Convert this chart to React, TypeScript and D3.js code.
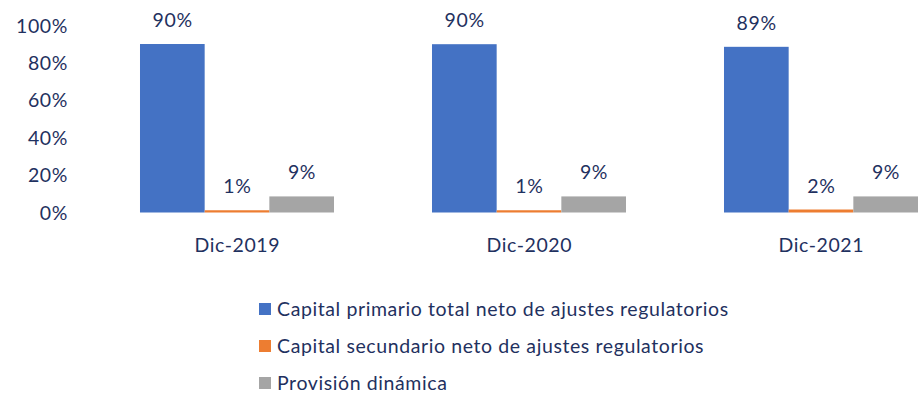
import React from "react";
import * as d3 from "d3";

const categories = ["Dic-2019", "Dic-2020", "Dic-2021"];
const seriesNames = [
  "Capital primario total neto de ajustes regulatorios",
  "Capital secundario neto de ajustes regulatorios",
  "Provisión dinámica",
];
const primario = [0.901, 0.9, 0.886];
const secundario = [0.012, 0.012, 0.016];
const provision = [0.086, 0.086, 0.086];
const labelsPrimario = ["90%", "90%", "89%"];
const labelsSecundario = ["1%", "1%", "2%"];
const labelsProvision = ["9%", "9%", "9%"];
const yTicks = [0, 0.2, 0.4, 0.6, 0.8, 1.0];
const colors = ["#4472C4", "#ED7D31", "#A5A5A5"];

const TEXT = "#1F3160";
const FONT = "Lato, 'Open Sans', sans-serif";

export default function App() {
  const W = 922;
  const H = 404;
  const x0 = d3
    .scaleBand<string>()
    .domain(categories)
    .range([91, 967])
    .paddingInner(0.3356)
    .paddingOuter(0.1678);
  const x1 = d3
    .scaleBand<number>()
    .domain([0, 1, 2])
    .range([0, x0.bandwidth()]);
  const y = d3.scaleLinear().domain([0, 1]).range([212.5, 25.5]);

  const series = [primario, secundario, provision];
  const labels = [labelsPrimario, labelsSecundario, labelsProvision];
  const ls = 0.6;

  return (
    <svg
      width={W}
      height={H}
      style={{ position: "absolute", left: 0, top: 0, background: "#fff" }}
      fontFamily={FONT}
    >
      <rect width={W} height={H} fill="#fff" />
      {yTicks.map((t) => (
        <text
          key={t}
          x={68}
          y={y(t)}
          dy="0.36em"
          textAnchor="end"
          fontSize={19.5}
          letterSpacing={ls}
          fill={TEXT}
        >
          {d3.format(".0%")(t)}
        </text>
      ))}
      {categories.map((c, ci) => (
        <g key={c} transform={`translate(${x0(c)},0)`}>
          {series.map((s, si) => (
            <rect
              key={si}
              x={x1(si)}
              y={y(s[ci])}
              width={x1.bandwidth()}
              height={y(0) - y(s[ci])}
              fill={colors[si]}
            />
          ))}
          {series.map((s, si) => (
            <text
              key={"l" + si}
              x={(x1(si) as number) + x1.bandwidth() / 2 + ls / 2}
              y={y(s[ci]) - 17}
              textAnchor="middle"
              fontSize={19.5}
              letterSpacing={ls}
              fill={TEXT}
            >
              {labels[si][ci]}
            </text>
          ))}
          <text
            x={x0.bandwidth() / 2 + ls / 2}
            y={252}
            textAnchor="middle"
            fontSize={19.5}
            letterSpacing={ls}
            fill={TEXT}
          >
            {c}
          </text>
        </g>
      ))}
      {seriesNames.map((n, i) => (
        <g key={n} transform={`translate(259,${303 + i * 37})`}>
          <rect width={12} height={12} fill={colors[i]} />
          <text x={18} y={13} fontSize={19.5} letterSpacing={ls} fill={TEXT}>
            {n}
          </text>
        </g>
      ))}
    </svg>
  );
}
